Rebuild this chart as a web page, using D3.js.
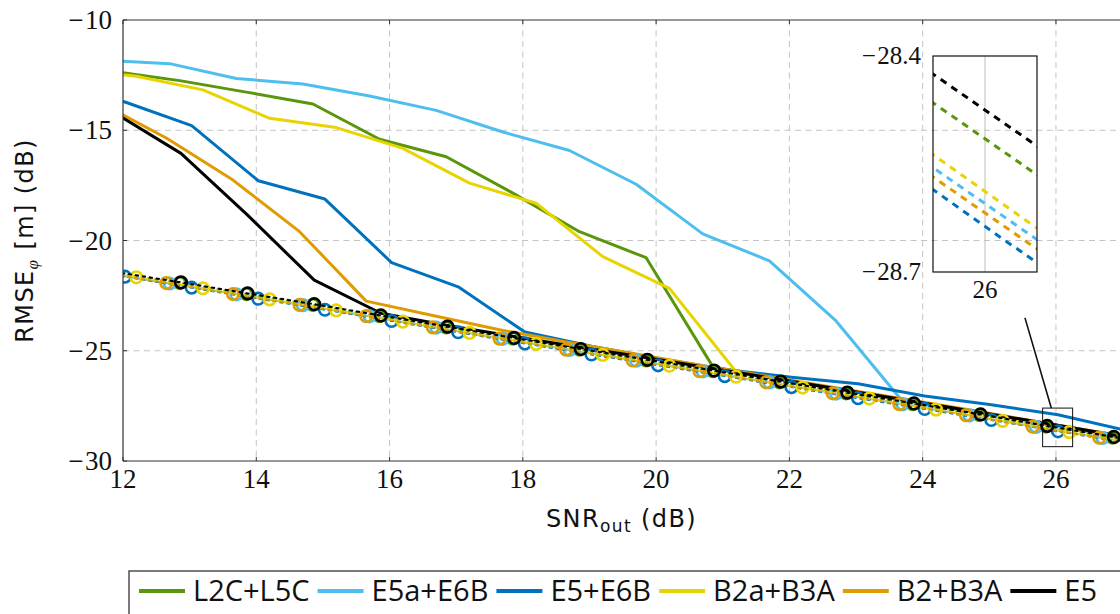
<!DOCTYPE html>
<html>
<head>
<meta charset="utf-8">
<script src="https://cdn.jsdelivr.net/npm/d3@7"></script>
<style>
  html, body { margin: 0; padding: 0; background: #fff; }
  svg { display: block; }
</style>
</head>
<body>
<svg id="chart" width="1120" height="614"></svg>
<script>
// ---------------- DATA ----------------
const seriesNames = ["L2C+L5C", "E5a+E6B", "E5+E6B", "B2a+B3A", "B2+B3A", "E5"];
const seriesColors = ["#5a960c", "#4dbeee", "#0072bd", "#e8d400", "#df9b00", "#000000"];

// SNR_out grid of each series (dB)
const snrGreen  = [11.85,12.85,13.85,14.85,15.85,16.85,17.85,18.85,19.85,20.85,21.85,22.85,23.85,24.85,25.85,26.85,27.85];
const snrLBlue  = [11.7,12.7,13.7,14.7,15.7,16.7,17.7,18.7,19.7,20.7,21.7,22.7,23.7,24.7,25.7,26.7,27.7];
const snrBlue   = [11.03,12.03,13.03,14.03,15.03,16.03,17.03,18.03,19.03,20.03,21.03,22.03,23.03,24.03,25.03,26.03,27.03];
const snrYellow = [11.2,12.2,13.2,14.2,15.2,16.2,17.2,18.2,19.2,20.2,21.2,22.2,23.2,24.2,25.2,26.2,27.2];
const snrOrange = [11.65,12.65,13.65,14.65,15.65,16.65,17.65,18.65,19.65,20.65,21.65,22.65,23.65,24.65,25.65,26.65,27.65];
const snrBlack  = [11.87,12.87,13.87,14.87,15.87,16.87,17.87,18.87,19.87,20.87,21.87,22.87,23.87,24.87,25.87,26.87,27.87];

// RMSE (dB) - simulated (solid lines)
const rmseGreen  = [-12.33,-12.75,-13.27,-13.81,-15.41,-16.2,-17.85,-19.6,-20.78,-25.72,-26.3,-26.8,-27.3,-27.8,-28.3,-28.8,-29.3];
const rmseLBlue  = [-11.82,-11.98,-12.65,-12.9,-13.45,-14.1,-15.08,-15.92,-17.45,-19.7,-20.92,-23.65,-27.3,-27.75,-28.28,-28.8,-29.3];
const rmseBlue   = [-12.9,-13.72,-14.79,-17.29,-18.12,-21.0,-22.1,-24.15,-24.8,-25.35,-25.85,-26.2,-26.5,-27.05,-27.45,-27.9,-28.6];
const rmseYellow = [-12.2,-12.55,-13.17,-14.46,-14.88,-15.82,-17.4,-18.31,-20.73,-22.17,-25.95,-26.5,-27.0,-27.5,-28.0,-28.5,-29.0];
const rmseOrange = [-13.75,-15.35,-17.26,-19.6,-22.75,-23.4,-24.05,-24.6,-25.12,-25.65,-26.15,-26.65,-27.15,-27.65,-28.18,-28.7,-29.2];
const rmseBlack  = [-14.2,-16.05,-18.85,-21.8,-23.3,-23.85,-24.35,-24.85,-25.32,-25.82,-26.3,-26.8,-27.3,-27.8,-28.3,-28.82,-29.3];

// RMSE (dB) - bound (dashed lines with circle markers)
const boundGreen  = [-21.45,-21.93,-22.43,-22.92,-23.43,-23.94,-24.45,-24.95,-25.44,-25.93,-26.43,-26.93,-27.42,-27.91,-28.44,-28.94,-29.44];
const boundLBlue  = [-21.46,-21.95,-22.44,-22.93,-23.44,-23.95,-24.46,-24.96,-25.45,-25.94,-26.44,-26.94,-27.43,-27.93,-28.455,-28.955,-29.45];
const boundBlue   = [-21.16,-21.64,-22.14,-22.64,-23.14,-23.65,-24.16,-24.67,-25.17,-25.66,-26.15,-26.65,-27.15,-27.64,-28.14,-28.652,-29.15];
const boundYellow = [-21.18,-21.67,-22.17,-22.67,-23.17,-23.68,-24.19,-24.69,-25.19,-25.68,-26.18,-26.67,-27.17,-27.67,-28.18,-28.69,-29.19];
const boundOrange = [-21.44,-21.93,-22.43,-22.92,-23.43,-23.94,-24.45,-24.95,-25.44,-25.93,-26.43,-26.93,-27.42,-27.92,-28.443,-28.943,-29.44];
const boundBlack  = [-21.42,-21.9,-22.4,-22.89,-23.4,-23.91,-24.42,-24.92,-25.41,-25.9,-26.4,-26.9,-27.39,-27.89,-28.41,-28.91,-29.41];

// Axes / ticks
const xDomain = [12, 27];
const yDomain = [-30, -10];
const xTicks = [12, 14, 16, 18, 20, 22, 24, 26];
const yTicks = [-30, -25, -20, -15, -10];
const xLabel = ["SNR", "out", " (dB)"];
const yLabel = ["RMSE", "φ", " [m] (dB)"];

// Inset (magnified view)
const insetXDomain = [25.9, 26.1];
const insetYDomain = [-28.7, -28.4];
const insetXTicks = [26];
const insetYTicks = [-28.7, -28.4];
const spyBox = { x0: 25.8, x1: 26.25, y0: -29.35, y1: -27.6 };
const spyLink = [[25.93, -27.6], [25.535, -23.51]];

// ---------------- BUILD ----------------
const snrs   = [snrGreen, snrLBlue, snrBlue, snrYellow, snrOrange, snrBlack];
const rmses  = [rmseGreen, rmseLBlue, rmseBlue, rmseYellow, rmseOrange, rmseBlack];
const bounds = [boundGreen, boundLBlue, boundBlue, boundYellow, boundOrange, boundBlack];
const series = seriesNames.map((name, i) => ({
  name, color: seriesColors[i],
  sim: snrs[i].map((s, j) => [s, rmses[i][j]]),
  bound: snrs[i].map((s, j) => [s, bounds[i][j]])
}));

const svg = d3.select("#chart");
const L = 123, R = 1122.6, T = 20, B = 461;
const x = d3.scaleLinear().domain(xDomain).range([L, R]);
const y = d3.scaleLinear().domain(yDomain).range([B, T]);

const serif = "'Liberation Serif', 'Times New Roman', serif";
const sans = "'DejaVu Sans', sans-serif";

svg.append("defs").append("clipPath").attr("id", "plotClip")
  .append("rect").attr("x", L).attr("y", T).attr("width", R - L).attr("height", B - T);

// grid
const grid = svg.append("g");
grid.selectAll("line.vx").data(xTicks.filter(t => t !== xDomain[0])).join("line")
  .attr("x1", d => x(d)).attr("x2", d => x(d)).attr("y1", T).attr("y2", B)
  .attr("stroke", "#c4c4c4").attr("stroke-width", 1).attr("stroke-dasharray", "6,4.5");
grid.selectAll("line.hy").data(yTicks.filter(t => t !== yDomain[0] && t !== yDomain[1])).join("line")
  .attr("x1", L).attr("x2", R).attr("y1", d => y(d)).attr("y2", d => y(d))
  .attr("stroke", "#c4c4c4").attr("stroke-width", 1).attr("stroke-dasharray", "6,4.5");

// data
const plot = svg.append("g").attr("clip-path", "url(#plotClip)");
const line = d3.line().x(d => x(d[0])).y(d => y(d[1]));
series.forEach(s => {
  plot.append("path").attr("d", line(s.sim)).attr("fill", "none")
    .attr("stroke", s.color).attr("stroke-width", 3).attr("stroke-linejoin", "round");
});
series.forEach(s => {
  plot.append("path").attr("d", line(s.bound)).attr("fill", "none")
    .attr("stroke", s.color).attr("stroke-width", 2).attr("stroke-dasharray", "4,3");
  plot.selectAll(null).data(s.bound.filter(d => d[0] >= xDomain[0] && d[0] <= xDomain[1])).join("circle")
    .attr("cx", d => x(d[0])).attr("cy", d => y(d[1])).attr("r", 5.8)
    .attr("fill", "none").attr("stroke", s.color).attr("stroke-width", 2.6);
});

// axes frame
const axisColor = "#333";
svg.append("line").attr("x1", L).attr("x2", L).attr("y1", T).attr("y2", B).attr("stroke", axisColor).attr("stroke-width", 1.2);
svg.append("line").attr("x1", L).attr("x2", R).attr("y1", T).attr("y2", T).attr("stroke", axisColor).attr("stroke-width", 1.2);
svg.append("line").attr("x1", L).attr("x2", R).attr("y1", B).attr("y2", B).attr("stroke", axisColor).attr("stroke-width", 1.2);

// ticks
svg.selectAll(null).data(xTicks).join("line")
  .attr("x1", d => x(d)).attr("x2", d => x(d)).attr("y1", B).attr("y2", B - 4).attr("stroke", axisColor);
svg.selectAll(null).data(xTicks).join("line")
  .attr("x1", d => x(d)).attr("x2", d => x(d)).attr("y1", T).attr("y2", T + 4).attr("stroke", axisColor);
svg.selectAll(null).data(yTicks).join("line")
  .attr("x1", L).attr("x2", L + 4).attr("y1", d => y(d)).attr("y2", d => y(d)).attr("stroke", axisColor);

// number label with a wide (TeX-like) minus sign
function numLabel(sel, v, gap) {
  sel.text(null);
  if (v < 0) {
    sel.append("tspan").text("\u2212");
    sel.append("tspan").attr("dx", gap).text(String(Math.abs(v)));
  } else {
    sel.append("tspan").text(String(v));
  }
}
svg.selectAll(null).data(xTicks).join("text")
  .attr("x", d => x(d)).attr("y", 488).attr("text-anchor", "middle")
  .attr("font-family", serif).attr("font-size", 27).attr("fill", "#111")
  .each(function (d) { numLabel(d3.select(this), d, 1.5); });
svg.selectAll(null).data(yTicks).join("text")
  .attr("x", 112).attr("y", d => y(d) + 9).attr("text-anchor", "end")
  .attr("font-family", serif).attr("font-size", 27).attr("fill", "#111")
  .each(function (d) { numLabel(d3.select(this), d, 1.5); });

// axis labels
const xl = svg.append("text").attr("x", (L + 1120) / 2).attr("y", 527).attr("text-anchor", "middle")
  .attr("font-family", sans).attr("font-size", 24).attr("letter-spacing", 1.4).attr("fill", "#111");
xl.append("tspan").text(xLabel[0]);
xl.append("tspan").attr("font-size", 17).attr("dy", 5).text(xLabel[1]);
xl.append("tspan").attr("dy", -5).text(xLabel[2]);

const yl = svg.append("text").attr("transform", `translate(33,${(T + B) / 2}) rotate(-90)`)
  .attr("text-anchor", "middle").attr("font-family", sans).attr("font-size", 24)
  .attr("letter-spacing", 1.4).attr("fill", "#111");
yl.append("tspan").text(yLabel[0]);
yl.append("tspan").attr("font-size", 17).attr("dy", 5).attr("font-family", serif).attr("font-style", "italic").text(yLabel[1]);
yl.append("tspan").attr("dy", -5).text(yLabel[2]);

// spy box + connector
svg.append("rect").attr("x", x(spyBox.x0)).attr("y", y(spyBox.y1))
  .attr("width", x(spyBox.x1) - x(spyBox.x0)).attr("height", y(spyBox.y0) - y(spyBox.y1))
  .attr("fill", "none").attr("stroke", "#111").attr("stroke-width", 1);
svg.append("line").attr("x1", x(spyLink[0][0])).attr("y1", y(spyLink[0][1]))
  .attr("x2", x(spyLink[1][0])).attr("y2", y(spyLink[1][1]))
  .attr("stroke", "#111").attr("stroke-width", 1.6);

// inset
const iL = 933, iR = 1037, iT = 56, iB = 272;
const ix = d3.scaleLinear().domain(insetXDomain).range([iL, iR]);
const iy = d3.scaleLinear().domain(insetYDomain).range([iB, iT]);
svg.append("defs").append("clipPath").attr("id", "insetClip")
  .append("rect").attr("x", iL).attr("y", iT).attr("width", iR - iL).attr("height", iB - iT);
const inset = svg.append("g");
inset.selectAll(null).data(insetXTicks).join("line")
  .attr("x1", d => ix(d)).attr("x2", d => ix(d)).attr("y1", iT).attr("y2", iB)
  .attr("stroke", "#bdbdbd").attr("stroke-width", 1);
const iline = d3.line().x(d => ix(d[0])).y(d => iy(d[1]));
const ip = inset.append("g").attr("clip-path", "url(#insetClip)");
series.forEach(s => {
  ip.append("path").attr("d", iline(s.bound)).attr("fill", "none")
    .attr("stroke", s.color).attr("stroke-width", 3).attr("stroke-dasharray", "7,6");
});
inset.append("rect").attr("x", iL).attr("y", iT).attr("width", iR - iL).attr("height", iB - iT)
  .attr("fill", "none").attr("stroke", "#111").attr("stroke-width", 1.2);
inset.selectAll(null).data(insetYTicks).join("text")
  .attr("x", 921).attr("y", d => iy(d) + 8).attr("text-anchor", "end")
  .attr("font-family", serif).attr("font-size", 25).attr("fill", "#111")
  .each(function (d) { numLabel(d3.select(this), d, 1.5); });
inset.selectAll(null).data(insetXTicks).join("text")
  .attr("x", d => ix(d)).attr("y", 298).attr("text-anchor", "middle")
  .attr("font-family", serif).attr("font-size", 25).attr("fill", "#111")
  .each(function (d) { numLabel(d3.select(this), d, 1.5); });

// legend
const lg = svg.append("g");
lg.append("rect").attr("x", 129).attr("y", 571).attr("width", 992).attr("height", 60)
  .attr("fill", "#fff").attr("stroke", "#333").attr("stroke-width", 1.3);
let cx = 139;
series.forEach(s => {
  lg.append("line").attr("x1", cx).attr("x2", cx + 46).attr("y1", 591).attr("y2", 591)
    .attr("stroke", s.color).attr("stroke-width", 4);
  const t = lg.append("text").attr("x", cx + 54).attr("y", 601)
    .attr("font-family", "'Open Sans', sans-serif").attr("font-size", 29).attr("fill", "#111").text(s.name);
  cx = cx + 54 + t.node().getComputedTextLength() + 8;
});
</script>
</body>
</html>
